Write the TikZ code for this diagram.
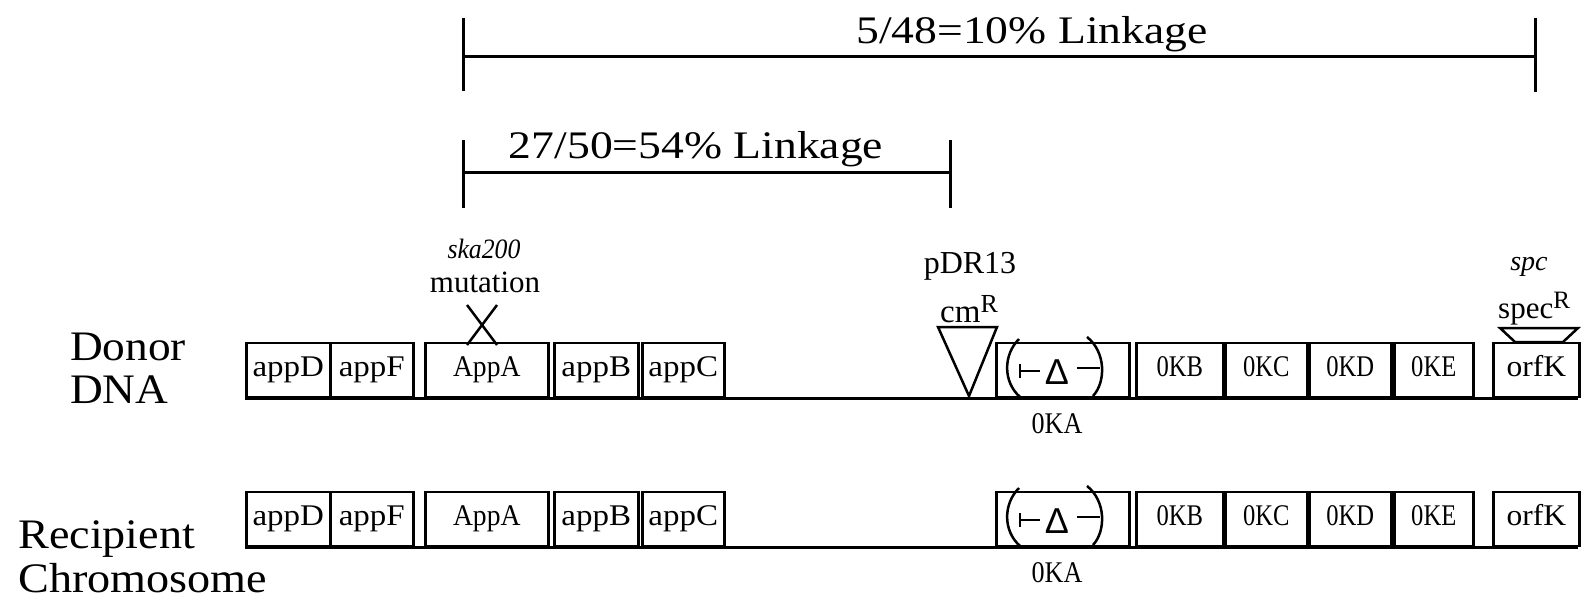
\documentclass[tikz,border=0pt]{standalone}
\usepackage{fontspec}
\setmainfont{Liberation Serif}
\newfontfamily\deltafont{Liberation Sans}
\usepackage{graphicx}
\newcommand{\fs}[1]{\fontsize{#1pt}{#1pt}\selectfont}
\newcommand{\hsc}[2]{\scalebox{#1}[1]{#2}}
\tikzset{
  gene/.style={draw, line width=2.5pt, inner sep=0pt, minimum height=54pt,
    anchor=south west, font=\fs{30}, text height=20pt, text depth=6pt},
  bar/.style={line width=3pt},
  thin/.style={line width=2.5pt},
  lbl/.style={inner sep=0pt, anchor=base},
}
\newcommand{\generow}[2]{%
  \coordinate (#1start) at (245,398+#2);
  \coordinate (#1end) at (1578,398+#2);
  \draw[bar] (#1start) -- (#1end);
  \node[gene, minimum width=84] (#1appD) at (245,398+#2) {\hsc{1.1}{appD}};
  \node[gene, minimum width=83] (#1appF) at (329,398+#2) {\hsc{1.1}{appF}};
  \node[gene, minimum width=123] (#1AppA) at (424,398+#2) {\hsc{0.92}{AppA}};
  \node[gene, minimum width=84] (#1appB) at (553,398+#2) {\hsc{1.1}{appB}};
  \node[gene, minimum width=82] (#1appC) at (641,398+#2) {\hsc{1.1}{appC}};
  \node[gene, minimum width=133] (#1OKA) at (995,398+#2) {};
  \node[gene, minimum width=87] (#1OKB) at (1135,398+#2) {\hsc{0.82}{0KB}};
  \node[gene, minimum width=82] (#1OKC) at (1224,398+#2) {\hsc{0.82}{0KC}};
  \node[gene, minimum width=82] (#1OKD) at (1308,398+#2) {\hsc{0.82}{0KD}};
  \node[gene, minimum width=79] (#1OKE) at (1393,398+#2) {\hsc{0.82}{0KE}};
  \node[gene, minimum width=86] (#1orfK) at (1492,398+#2) {\hsc{1.05}{orfK}};
  % deletion symbol inside 0KA
  \draw[thin] (1019,339+#2) .. controls (1003,355+#2) and (1003,382+#2) .. (1020,397+#2);
  \draw[thin] (1087,337+#2) .. controls (1106,352+#2) and (1106,382+#2) .. (1093,396+#2);
  \draw[thin] (1020,364+#2) -- (1020,378+#2);
  \draw[thin] (1020,371+#2) -- (1040,371+#2);
  \node[lbl, font=\deltafont\fs{36}] (#1delta) at (1057,384+#2) {Δ};
  \draw[thin] (1077,368+#2) -- (1100,368+#2);
  \node[lbl, font=\fs{30}] (#1OKAlbl) at (1057,433+#2) {\hsc{0.87}{0KA}};
}
\begin{document}
\begin{tikzpicture}[x=1pt,y=-1pt]
\useasboundingbox (0,0) rectangle (1593,602);
% linkage bars
\coordinate (t1L) at (463,57);
\coordinate (t1R) at (1535,57);
\draw[bar] (t1L) -- (t1R);
\draw[bar] (463,18) -- (463,91);
\draw[bar] (1535,18) -- (1535,92);
\node[lbl, font=\fs{39}] (t1txt) at (1032,44) {\hsc{1.17}{5/48=10\% Linkage}};
\coordinate (t2L) at (463,172);
\coordinate (t2R) at (950,172);
\draw[bar] (t2L) -- (t2R);
\draw[bar] (463,140) -- (463,208);
\draw[bar] (950,140) -- (950,208);
\node[lbl, font=\fs{39}] (t2txt) at (696,158) {\hsc{1.17}{27/50=54\% Linkage}};
% row labels
\node[lbl, anchor=base west, font=\fs{42}] (donor) at (70,360) {\hsc{1.08}{Donor}};
\node[lbl, anchor=base west, font=\fs{42}] (dna) at (70,403) {\hsc{1.08}{DNA}};
\node[lbl, anchor=base west, font=\fs{42}] (recip) at (18,548) {\hsc{1.1}{Recipient}};
\node[lbl, anchor=base west, font=\fs{42}] (chrom) at (18,592) {\hsc{1.1}{Chromosome}};
% rows
\generow{d}{0}
\generow{r}{149}
% ska200 mutation
\node[lbl, font=\itshape\fs{28}] (ska) at (484,258) {\hsc{0.92}{ska200}};
\node[lbl, font=\fs{31}] (mut) at (485,292) {mutation};
\draw[thin] (467,305) -- (497,345);
\draw[thin] (497,305) -- (467,345);
% pDR13 insertion
\node[lbl, font=\fs{32}] (pdr) at (970,273) {pDR13};
\node[lbl, anchor=base west, font=\fs{33}] (cmr) at (940,322) {cm\raisebox{10pt}{\fs{26}R}};
\draw[thin] (938,327) -- (997,327) -- (969,396) -- cycle;
% spc insertion
\node[lbl, font=\itshape\fs{28}] (spc) at (1529,270) {spc};
\node[lbl, anchor=base west, font=\fs{31}] (specr) at (1498,318) {spec\raisebox{10pt}{\fs{25}R}};
\draw[thin] (1500,328) -- (1578,328) -- (1563,342) -- (1515,342) -- cycle;
\end{tikzpicture}
\end{document}
